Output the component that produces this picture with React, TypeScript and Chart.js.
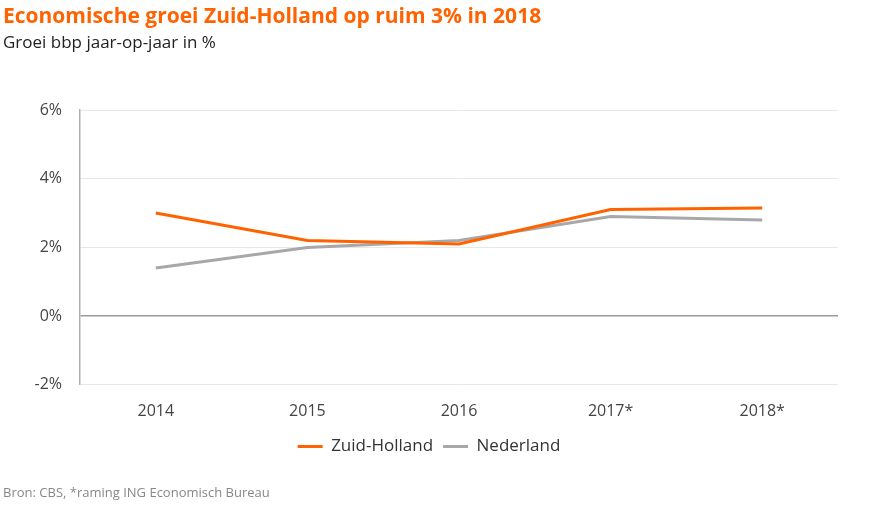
import React, { useEffect, useRef } from "react";
import { Chart, registerables } from "chart.js";

Chart.register(...registerables);

const categories = ["2014", "2015", "2016", "2017*", "2018*"];
const zuidHolland = [3.0, 2.2, 2.1, 3.1, 3.15];
const nederland = [1.4, 2.0, 2.2, 2.9, 2.8];
const yTicks = [-2, 0, 2, 4, 6];

const FONT = "'Open Sans', 'Noto Sans', sans-serif";

export default function App() {
  const ref = useRef<HTMLCanvasElement | null>(null);

  useEffect(() => {
    document.body.style.margin = "0";
    const ctx = ref.current!;
    const chart = new Chart(ctx, {
      type: "line",
      data: {
        labels: categories,
        datasets: [
          {
            label: "Zuid-Holland",
            data: zuidHolland,
            borderColor: "#FF6200",
            backgroundColor: "#FF6200",
            borderWidth: 3,
            pointRadius: 0,
            tension: 0,
          },
          {
            label: "Nederland",
            data: nederland,
            borderColor: "#A8A8A8",
            backgroundColor: "#A8A8A8",
            borderWidth: 3,
            pointRadius: 0,
            tension: 0,
          },
        ],
      },
      options: {
        animation: false,
        responsive: false,
        maintainAspectRatio: false,
        layout: { padding: { top: 110, bottom: 40, left: 20, right: 32 } },
        plugins: {
          title: { display: false },
          tooltip: { enabled: false },
          legend: {
            position: "bottom",
            labels: {
              boxWidth: 25,
              boxHeight: 3,
              padding: 10,
              color: "#333",
              font: { family: FONT, size: 17 },
              generateLabels: (c: any) =>
                Chart.defaults.plugins.legend.labels
                  .generateLabels(c)
                  .map((l: any) => ({ ...l, lineWidth: 0 })),
            },
          },
        },
        scales: {
          x: {
            offset: true,
            grid: { display: false, drawTicks: false },
            border: { display: false },
            afterFit: (s: any) => {
              s.height -= 10;
            },
            ticks: {
              color: "#444",
              padding: 17,
              font: { family: FONT, size: 16 },
            },
          },
          y: {
            min: yTicks[0],
            max: yTicks[yTicks.length - 1],
            afterBuildTicks: (s: any) => {
              s.ticks = yTicks.map((v) => ({ value: v }));
            },
            afterFit: (s: any) => {
              s.width = 60;
            },
            grid: {
              drawTicks: false,
              color: (c: any) => (c.tick && c.tick.value === 0 ? "#9a9a9a" : "#e8e8e8"),
              lineWidth: (c: any) => (c.tick && c.tick.value === 0 ? 1.5 : 1),
            },
            border: { display: true, color: "#b0b0b0", width: 1.5 },
            ticks: {
              color: "#444",
              padding: 18,
              font: { family: FONT, size: 16 },
              callback: (v: any) => `${v}%`,
            },
          },
        },
      },
    });
    return () => chart.destroy();
  }, []);

  return (
    <div style={{ position: "relative", width: 870, height: 505, background: "#fff", overflow: "hidden" }}>
      <canvas ref={ref} width={870} height={505} style={{ position: "absolute", left: 0, top: 0 }} />
      <div
        style={{
          position: "absolute",
          left: 3,
          top: 1,
          fontFamily: FONT,
          fontWeight: 700,
          fontSize: 21,
          color: "#FF6200",
          whiteSpace: "nowrap",
        }}
      >
        Economische groei Zuid-Holland op ruim 3% in 2018
      </div>
      <div
        style={{
          position: "absolute",
          left: 3,
          top: 30,
          fontFamily: FONT,
          fontSize: 17,
          color: "#222",
          whiteSpace: "nowrap",
        }}
      >
        Groei bbp jaar-op-jaar in %
      </div>
      <div
        style={{
          position: "absolute",
          left: 3,
          top: 483,
          fontFamily: FONT,
          fontSize: 13,
          color: "#888",
          whiteSpace: "nowrap",
        }}
      >
        Bron: CBS, *raming ING Economisch Bureau
      </div>
    </div>
  );
}
